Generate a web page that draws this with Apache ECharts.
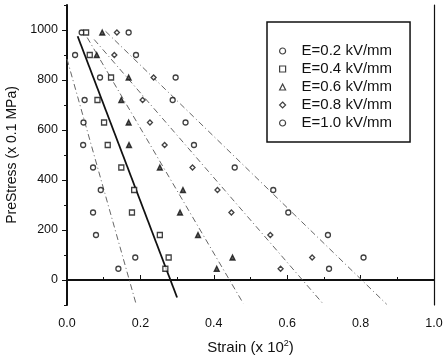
<!DOCTYPE html>
<html>
<head>
<meta charset="utf-8">
<script src="https://cdn.jsdelivr.net/npm/echarts@6/dist/echarts.min.js"></script>
<style>
  html, body { margin: 0; padding: 0; background: #fff; }
  #container { width: 447px; height: 355px; }
</style>
</head>
<body>
<div id="container"></div>
<script>
// stress levels (x 0.1 MPa), shared by every series
const stress = [990, 900, 810, 720, 630, 540, 450, 360, 270, 180, 90, 45];

// strain (x 10^-2), one value per stress level
const strain02 = [0.040, 0.022, 0.090, 0.048, 0.045, 0.044, 0.071, 0.092, 0.071, 0.079, 0.186, 0.140];
const strain04 = [0.052, 0.062, 0.120, 0.083, 0.101, 0.111, 0.148, 0.183, 0.177, 0.253, 0.277, 0.268];
const strain06 = [0.096, 0.081, 0.168, 0.148, 0.168, 0.169, 0.253, 0.316, 0.308, 0.357, 0.451, 0.408];
const strain08 = [0.136, 0.129, 0.236, 0.206, 0.226, 0.266, 0.342, 0.410, 0.448, 0.554, 0.668, 0.582];
const strain10 = [0.168, 0.188, 0.296, 0.288, 0.323, 0.346, 0.457, 0.562, 0.603, 0.711, 0.808, 0.714];

// fitted lines: [strain, stress] end points
const fit02 = [[0.0, 884], [0.188, -95]];
const fit04 = [[0.029, 975], [0.300, -70]];
const fit06 = [[0.055, 970], [0.480, -93]];
const fit08 = [[0.074, 962], [0.700, -99]];
const fit10 = [[0.105, 995], [0.871, -97]];

const seriesNames = ["E=0.2 kV/mm", "E=0.4 kV/mm", "E=0.6 kV/mm", "E=0.8 kV/mm", "E=1.0 kV/mm"];
const symbols = ["circle", "rect", "triangle", "diamond", "circle"];

const xTicks = [0, 0.2, 0.4, 0.6, 0.8, 1.0];
const yTicks = [0, 200, 400, 600, 800, 1000];
const yMinorTicks = [-100, 100, 300, 500, 700, 900, 1100];

const font = "'Liberation Sans', Arial, sans-serif";
const dashDot = [6, 3, 1, 3];

const strains = [strain02, strain04, strain06, strain08, strain10];
const fits = [fit02, fit04, fit06, fit08, fit10];

const series = [];
strains.forEach((s, i) => {
  series.push({
    name: seriesNames[i],
    type: "scatter",
    symbol: symbols[i],
    symbolSize: 5,
    data: s.map((x, j) => [x, stress[j]]),
    itemStyle: {
      color: symbols[i] === "triangle" ? "#333" : "#fff",
      borderColor: "#111",
      borderWidth: 1.3,
    },
    z: 3,
  });
});
fits.forEach((f, i) => {
  series.push({
    type: "line",
    data: f,
    showSymbol: false,
    silent: true,
    lineStyle: i === 1
      ? { color: "#111", width: 1.8, type: "solid" }
      : { color: "#666", width: 1, type: dashDot },
    z: 2,
  });
});

const chart = echarts.init(document.getElementById("container"));
chart.setOption({
  animation: false,
  textStyle: { fontFamily: font },
  grid: { left: 67, right: 13, top: 5, bottom: 50, containLabel: false, outerBoundsMode: "none" },
  legend: {
    orient: "vertical",
    left: 267,
    top: 22,
    padding: [20, 18, 10, 12],
    itemGap: 0,
    itemWidth: 6,
    itemHeight: 6,
    borderColor: "#111",
    borderWidth: 1.5,
    data: seriesNames.map((n) => ({
      name: n,
      itemStyle: { color: "#fff", borderColor: "#111", borderWidth: 1.2 },
    })),
    textStyle: {
      fontFamily: font,
      fontSize: 15,
      color: "#111",
      lineHeight: 18,
      padding: [0, 0, 0, 11],
    },
  },
  xAxis: [
    {
      type: "value",
      min: 0,
      max: 1,
      interval: 0.2,
      name: "Strain (x 10{sup|2})",
      nameLocation: "middle",
      nameGap: 34,
      nameTextStyle: {
        fontFamily: font,
        fontSize: 15,
        color: "#111",
        rich: {
          sup: { fontSize: 9, fontFamily: font, color: "#111", padding: [0, 0, 8, 0] },
        },
      },
      axisLine: { show: true, lineStyle: { color: "#111", width: 2 } },
      axisTick: { show: true, inside: true, length: 5, lineStyle: { color: "#111" } },
      minorTick: { show: true, splitNumber: 2, length: 3, lineStyle: { color: "#111" } },
      axisLabel: {
        fontFamily: font,
        fontSize: 12.5,
        color: "#111",
        margin: 12,
        customValues: xTicks,
        formatter: (v) => v.toFixed(1),
      },
      splitLine: { show: false },
    },
    {
      type: "value",
      position: "top",
      min: 0,
      max: 1,
      axisLine: { show: true, lineStyle: { color: "#111", width: 2 } },
      axisTick: { show: false },
      axisLabel: { show: false },
      splitLine: { show: false },
    },
  ],
  yAxis: [
    {
      type: "value",
      min: -100,
      max: 1100,
      interval: 100,
      name: "PreStress (x 0.1 MPa)",
      nameLocation: "middle",
      nameGap: 35,
      nameTextStyle: { fontFamily: font, fontSize: 14, color: "#111" },
      axisLine: { show: true, lineStyle: { color: "#111", width: 2 } },
      axisTick: { show: true, length: 5, customValues: yTicks, lineStyle: { color: "#111" } },
      axisLabel: {
        fontFamily: font,
        fontSize: 12.5,
        color: "#111",
        margin: 9,
        customValues: yTicks,
        formatter: (v) => String(v),
      },
      splitLine: { show: false },
    },
    {
      type: "value",
      position: "left",
      min: -100,
      max: 1100,
      interval: 100,
      axisLine: { show: false },
      axisTick: { show: true, length: 3, customValues: yMinorTicks, lineStyle: { color: "#111" } },
      axisLabel: { show: false },
      splitLine: { show: false },
    },
    {
      type: "value",
      position: "right",
      min: -100,
      max: 1100,
      axisLine: { show: true, lineStyle: { color: "#111", width: 1.2 } },
      axisTick: { show: false },
      axisLabel: { show: false },
      splitLine: { show: false },
    },
  ],
  series: series,
});
</script>
</body>
</html>
